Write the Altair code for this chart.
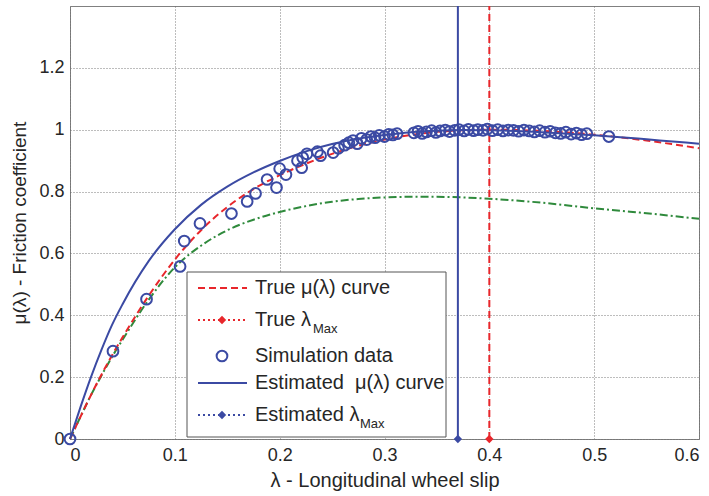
import altair as alt
import pandas as pd

# ---- data ----
lam_grid = [0, 0.01, 0.02, 0.03, 0.04, 0.05, 0.075, 0.1, 0.125, 0.15, 0.175, 0.2,
            0.225, 0.25, 0.275, 0.3, 0.325, 0.35, 0.375, 0.4, 0.425, 0.45, 0.475,
            0.5, 0.525, 0.55, 0.575, 0.6]
mu_true = [0, 0.072, 0.142, 0.208, 0.27, 0.328, 0.463, 0.58, 0.675, 0.75, 0.808, 0.853,
           0.89, 0.922, 0.948, 0.968, 0.983, 0.993, 0.998, 1.0, 0.999, 0.996, 0.991,
           0.984, 0.975, 0.965, 0.953, 0.94]
mu_est = [0, 0.103, 0.2, 0.288, 0.368, 0.435, 0.575, 0.678, 0.757, 0.816, 0.862, 0.899,
          0.93, 0.954, 0.971, 0.983, 0.992, 0.997, 0.999, 0.998, 0.996, 0.992, 0.987,
          0.982, 0.976, 0.969, 0.962, 0.955]
mu_other = [0, 0.072, 0.142, 0.205, 0.265, 0.32, 0.45, 0.555, 0.625, 0.675, 0.709, 0.734,
            0.753, 0.767, 0.776, 0.781, 0.783, 0.783, 0.781, 0.777, 0.771, 0.764, 0.755,
            0.746, 0.738, 0.73, 0.721, 0.712]

sim_lam = [0, 0.041, 0.073, 0.105, 0.109, 0.124, 0.154, 0.169, 0.177, 0.188, 0.197,
           0.200, 0.206, 0.217, 0.221, 0.222, 0.226, 0.236, 0.239, 0.251, 0.256, 0.262,
           0.266, 0.270, 0.274, 0.278, 0.283, 0.287, 0.291, 0.295, 0.300, 0.304, 0.308,
           0.312, 0.328, 0.332, 0.336, 0.340, 0.345, 0.349, 0.353, 0.358, 0.362, 0.367,
           0.371, 0.376, 0.380, 0.385, 0.389, 0.394, 0.398, 0.403, 0.408, 0.413, 0.418,
           0.423, 0.428, 0.433, 0.438, 0.443, 0.448, 0.453, 0.458, 0.463, 0.468, 0.473,
           0.478, 0.483, 0.488, 0.493, 0.514]
sim_mu = [0, 0.284, 0.452, 0.558, 0.640, 0.697, 0.729, 0.768, 0.794, 0.839, 0.813,
          0.874, 0.855, 0.900, 0.877, 0.910, 0.922, 0.929, 0.916, 0.926, 0.940, 0.950,
          0.958, 0.965, 0.955, 0.972, 0.968, 0.978, 0.974, 0.982, 0.978, 0.985, 0.983,
          0.987, 0.990, 0.995, 0.988, 0.993, 0.997, 0.991, 0.996, 0.999, 0.994, 0.998,
          1.000, 0.996, 1.001, 0.997, 1.000, 0.998, 1.002, 0.997, 1.000, 0.996, 0.999,
          0.998, 0.995, 0.999, 0.996, 0.993, 0.997, 0.992, 0.995, 0.990, 0.988, 0.992,
          0.986, 0.989, 0.984, 0.987, 0.978]

lam_max_true = 0.4
lam_max_est = 0.37
x_ticks = [0, 0.1, 0.2, 0.3, 0.4, 0.5, 0.6]
y_ticks = [0, 0.2, 0.4, 0.6, 0.8, 1.0, 1.2]

legend_labels = ["True μ(λ) curve", "True λ", "Simulation data",
                 "Estimated\u00a0\u00a0μ(λ) curve", "Estimated λ"]

RED = "#e8262b"
BLUE = "#3b4aa3"
GREEN = "#2f8a3c"
FONT = "Liberation Sans"
TXT = "#262626"

curves = pd.DataFrame({"lam": lam_grid, "true": mu_true, "est": mu_est, "other": mu_other})
sim = pd.DataFrame({"lam": sim_lam, "mu": sim_mu})
vmax = pd.DataFrame({"lam": [lam_max_est, lam_max_true], "top": [1.4, 1.4], "bot": [0, 0],
                     "kind": ["est", "true"]})
one = pd.DataFrame({"k": [0]})

xs = alt.Scale(domain=[0, 0.6], nice=False, zero=False)
ys = alt.Scale(domain=[0, 1.4], nice=False, zero=False)

xax = alt.Axis(values=x_ticks, format="~g", title="λ - Longitudinal wheel slip",
               grid=True, ticks=False, domain=False, labelPadding=7, titlePadding=6,
               titleFontSize=20)
yax = alt.Axis(values=y_ticks, format="~g", title="μ(λ) - Friction coefficient",
               grid=True, ticks=False, domain=False, labelPadding=6, titlePadding=9,
               titleFontSize=19)

base = alt.Chart(curves)

green = base.mark_line(color=GREEN, strokeWidth=2, strokeDash=[8, 3, 2, 3],
                       interpolate="monotone").encode(
    x=alt.X("lam:Q", scale=xs, axis=xax), y=alt.Y("other:Q", scale=ys, axis=yax))
red = base.mark_line(color=RED, strokeWidth=2, strokeDash=[7, 4],
                     interpolate="monotone").encode(x=alt.X("lam:Q", scale=xs),
                                                    y=alt.Y("true:Q", scale=ys))
blue = base.mark_line(color=BLUE, strokeWidth=2, interpolate="monotone").encode(
    x=alt.X("lam:Q", scale=xs), y=alt.Y("est:Q", scale=ys))

vred = alt.Chart(vmax).transform_filter("datum.kind == 'true'").mark_rule(
    color=RED, strokeWidth=2, strokeDash=[7, 4]).encode(
    x=alt.X("lam:Q", scale=xs), y=alt.Y("bot:Q", scale=ys), y2="top:Q")
vblue = alt.Chart(vmax).transform_filter("datum.kind == 'est'").mark_rule(
    color=BLUE, strokeWidth=2).encode(
    x=alt.X("lam:Q", scale=xs), y=alt.Y("bot:Q", scale=ys), y2="top:Q")

pts = alt.Chart(sim).mark_point(shape="circle", filled=False, color=BLUE, size=115,
                                strokeWidth=2, opacity=1).encode(
    x=alt.X("lam:Q", scale=xs), y=alt.Y("mu:Q", scale=ys))

dia = alt.Chart(vmax).mark_point(shape="diamond", filled=True, size=70, opacity=1).encode(
    x=alt.X("lam:Q", scale=xs), y=alt.Y("bot:Q", scale=ys),
    color=alt.Color("kind:N", scale=alt.Scale(domain=["est", "true"], range=[BLUE, RED]),
                    legend=None))

# ---- hand-built legend (plot-pixel coordinates) ----
lg = alt.Chart(one)
box = lg.mark_rect(fill="white", stroke="#555555", strokeWidth=1).encode(
    x=alt.value(117), x2=alt.value(376), y=alt.value(266), y2=alt.value(431))
rows_y = [282, 314, 350, 377, 409]
lx1, lx2, mx, tx = 128, 177, 152, 185
leg_layers = [box]
leg_layers.append(lg.mark_rule(color=RED, strokeWidth=2, strokeDash=[7, 4]).encode(
    x=alt.value(lx1), x2=alt.value(lx2), y=alt.value(rows_y[0])))
leg_layers.append(lg.mark_rule(color=RED, strokeWidth=2, strokeDash=[2, 3]).encode(
    x=alt.value(lx1), x2=alt.value(lx2), y=alt.value(rows_y[1])))
leg_layers.append(lg.mark_point(shape="diamond", filled=True, color=RED, size=70,
                                opacity=1).encode(x=alt.value(mx), y=alt.value(rows_y[1])))
leg_layers.append(lg.mark_point(shape="circle", filled=False, color=BLUE, size=115,
                                strokeWidth=2, opacity=1).encode(
    x=alt.value(mx), y=alt.value(rows_y[2])))
leg_layers.append(lg.mark_rule(color=BLUE, strokeWidth=2).encode(
    x=alt.value(lx1), x2=alt.value(lx2), y=alt.value(rows_y[3])))
leg_layers.append(lg.mark_rule(color=BLUE, strokeWidth=2, strokeDash=[2, 3]).encode(
    x=alt.value(lx1), x2=alt.value(lx2), y=alt.value(rows_y[4])))
leg_layers.append(lg.mark_point(shape="diamond", filled=True, color=BLUE, size=70,
                                opacity=1).encode(x=alt.value(mx), y=alt.value(rows_y[4])))
for lab, yy in zip(legend_labels, rows_y):
    leg_layers.append(lg.mark_text(text=lab, align="left", baseline="middle", font=FONT,
                                   fontSize=20, color=TXT).encode(
        x=alt.value(tx), y=alt.value(yy)))
for sx, yy in [(243, rows_y[1]), (290, rows_y[4])]:
    leg_layers.append(lg.mark_text(text="Max", align="left", baseline="middle", font=FONT,
                                   fontSize=13, color=TXT).encode(
        x=alt.value(sx), y=alt.value(yy + 9)))

chart = alt.layer(green, red, blue, vred, vblue, pts, dia, *leg_layers).properties(
    width=629, height=433,
    autosize=alt.AutoSizeParams(type="none"),
    padding={"left": 70, "top": 6, "right": 10, "bottom": 57},
    background="white",
).configure_view(stroke="#808080", strokeWidth=1).configure_axis(
    labelFont=FONT, titleFont=FONT, labelFontSize=18,
    labelColor=TXT, titleColor=TXT, titleFontWeight="normal",
    gridColor="#6e6e6e", gridDash=[1, 2], gridWidth=1, gridOpacity=0.9,
)

chart.save("out.html", embed_options={"renderer": "svg", "actions": False})
